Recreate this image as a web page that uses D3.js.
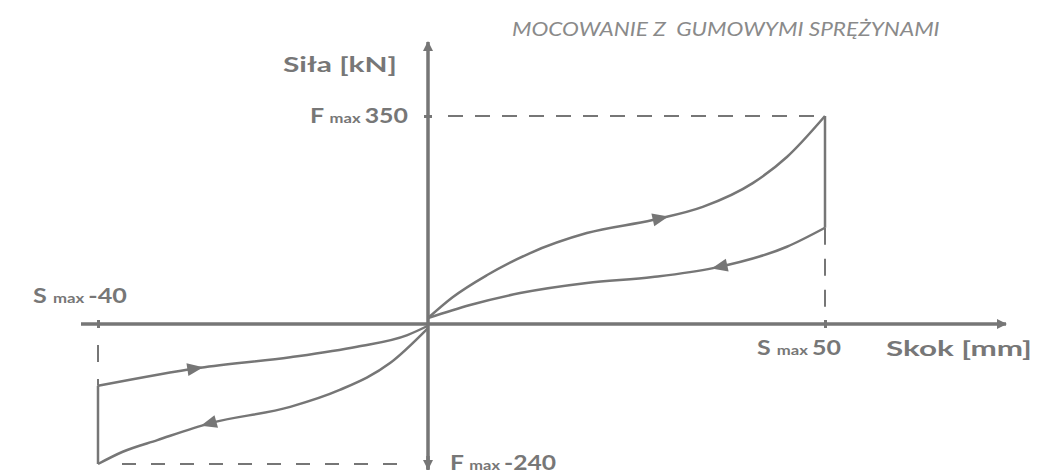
<!DOCTYPE html>
<html>
<head>
<meta charset="utf-8">
<script src="https://cdn.jsdelivr.net/npm/d3@7"></script>
<style>
  html, body { margin: 0; padding: 0; background: #fff; }
  svg { display: block; }
  .lbl { font-family: Lato, "Open Sans", sans-serif; font-weight: 700; fill: #777; }
</style>
</head>
<body>
<svg id="chart" width="1037" height="474"></svg>
<script>
// Hysteresis loop of the mount: stroke [mm] vs force [kN]
const title = "MOCOWANIE Z  GUMOWYMI SPRĘŻYNAMI";
const xTicks = [-40, 50];          // S max
const yTicks = [-240, 350];        // F max

// compression side (positive stroke)
const loadPos   = [[0,10],[3.1,45],[7.4,82],[12.8,119],[20,153],[28.3,175],[34.6,197],[40.9,237],[45.2,281],[50,350]];
const unloadPos = [[50,162],[45.2,130],[35.9,94],[28.3,79],[20,69],[11.6,52],[5.3,32],[0,10]];
// rebound side (negative stroke)
const loadNeg   = [[0,-7],[-4.6,-67],[-10.7,-113],[-16.7,-142],[-26.4,-170],[-32.8,-199],[-37,-219],[-40,-240]];
const unloadNeg = [[-40,-106],[-27.6,-75],[-16.7,-57],[-8.6,-39],[-2.5,-19],[0,-3]];

// stroke value where each direction arrow sits
const arrowsAt = [
  { curve: loadPos,   x: 29.3 },
  { curve: unloadPos, x: 36.7 },
  { curve: unloadNeg, x: -28.2 },
  { curve: loadNeg,   x: -26.6 }
];

const svg = d3.select("#chart");
const grey = "#767676";

const x = d3.scaleLinear().domain([-40, 0, 50]).range([98, 428, 825]);
const y = d3.scaleLinear().domain([-240, 0, 350]).range([464, 324, 116]);

// arrowheads
const defs = svg.append("defs");
defs.append("marker").attr("id", "axArrow").attr("viewBox", "0 0 10 10")
  .attr("refX", 9).attr("refY", 5).attr("markerWidth", 12).attr("markerHeight", 10)
  .attr("markerUnits", "userSpaceOnUse").attr("orient", "auto")
  .append("path").attr("d", "M0,0 L10,5 L0,10 Z").attr("fill", grey);

// dashed guide lines
const guides = svg.append("g").attr("stroke", grey).attr("stroke-width", 2).attr("fill", "none");
guides.append("line")
  .attr("x1", x(0) + 20).attr("x2", x(50) - 4).attr("y1", y(350)).attr("y2", y(350))
  .attr("stroke-dasharray", "15,12");
guides.append("line")
  .attr("x1", x(-40) + 24).attr("x2", x(0) - 18).attr("y1", y(-240)).attr("y2", y(-240))
  .attr("stroke-dasharray", "14,15");
guides.append("line")
  .attr("x1", x(50)).attr("x2", x(50)).attr("y1", y(162)).attr("y2", y(0))
  .attr("stroke-dasharray", "17,14");
guides.append("line")
  .attr("x1", x(-40)).attr("x2", x(-40)).attr("y1", y(0)).attr("y2", y(-106))
  .attr("stroke-dasharray", "0,21,17,17,17,1000");

// vertical closing segments of the loop
guides.append("line").attr("stroke-width", 2.5)
  .attr("x1", x(50)).attr("x2", x(50)).attr("y1", y(350)).attr("y2", y(162));
guides.append("line").attr("stroke-width", 2.5)
  .attr("x1", x(-40)).attr("x2", x(-40)).attr("y1", y(-106)).attr("y2", y(-240));

// axes
const axG = svg.append("g");
axG.append("line").attr("x1", 81).attr("x2", 1006).attr("y1", y(0)).attr("y2", y(0))
  .attr("stroke", grey).attr("stroke-width", 3.5).attr("marker-end", "url(#axArrow)");
axG.append("line").attr("x1", x(0)).attr("x2", x(0)).attr("y1", 470).attr("y2", 42)
  .attr("stroke", grey).attr("stroke-width", 3.5).attr("marker-end", "url(#axArrow)");
axG.append("line").attr("x1", x(0)).attr("x2", x(0)).attr("y1", 456).attr("y2", 469)
  .attr("stroke", grey).attr("stroke-width", 3.5).attr("marker-end", "url(#axArrow)");

const xAxis = svg.append("g").attr("transform", `translate(0,${y(0)})`)
  .call(d3.axisBottom(x).tickValues(xTicks).tickSize(4).tickFormat(""));
const yAxis = svg.append("g").attr("transform", `translate(${x(0)},0)`)
  .call(d3.axisLeft(y).tickValues([350]).tickSize(4).tickFormat(""));
[xAxis, yAxis].forEach(g => {
  g.select(".domain").remove();
  g.selectAll(".tick line").attr("stroke", grey).attr("stroke-width", 3);
});
xAxis.selectAll(".tick line").attr("y1", -4).attr("y2", 4);
yAxis.selectAll(".tick line").attr("x1", -4).attr("x2", 4);

// loop curves
const line = d3.line().x(d => x(d[0])).y(d => y(d[1])).curve(d3.curveMonotoneX);
const curves = [loadPos, unloadPos, loadNeg, unloadNeg];
const paths = svg.append("g").selectAll("path").data(curves).join("path")
  .attr("d", line).attr("fill", "none").attr("stroke", grey).attr("stroke-width", 2.5);

// direction arrows placed on the curves
arrowsAt.forEach(a => {
  const node = paths.filter(d => d === a.curve).node();
  const total = node.getTotalLength();
  const first = node.getPointAtLength(0).x, last = node.getPointAtLength(total).x;
  const dir = last > first ? 1 : -1;
  const tx = x(a.x);
  let lo = 0, hi = total;
  for (let i = 0; i < 40; i++) {
    const mid = (lo + hi) / 2;
    const px = node.getPointAtLength(mid).x;
    if ((px - tx) * dir < 0) lo = mid; else hi = mid;
  }
  const p = node.getPointAtLength(lo);
  const q = node.getPointAtLength(Math.min(total, lo + 2));
  const ang = Math.atan2(q.y - p.y, q.x - p.x) * 180 / Math.PI;
  svg.append("path").attr("d", "M8,0 L-8,-6.5 L-8,6.5 Z").attr("fill", grey)
    .attr("transform", `translate(${p.x},${p.y}) rotate(${ang})`);
});

// text helper: draws at the origin, then widens horizontally to the given width
function widenedText(xPos, yPos, anchor, width, build) {
  const g = svg.append("g");
  const t = g.append("text").attr("text-anchor", anchor);
  build(t);
  const w = t.node().getBBox().width;
  g.attr("transform", `translate(${xPos},${yPos}) scale(${width / w},1)`);
  return t;
}

widenedText(512, 36, "start", 428, t => t
  .attr("font-family", "Lato, 'Open Sans', sans-serif").attr("font-style", "italic")
  .attr("font-size", 19).attr("fill", "#8a8a8a")
  .style("white-space", "pre").text(title));

widenedText(283, 72, "start", 114, t => t.attr("class", "lbl").attr("font-size", 21).text("Siła [kN]"));
widenedText(886, 356, "start", 146, t => t.attr("class", "lbl").attr("font-size", 21).text("Skok [mm]"));

function maxLabel(xPos, yPos, width, letter, value, anchor) {
  widenedText(xPos, yPos, anchor, width, t => {
    t.attr("class", "lbl");
    t.append("tspan").attr("font-size", 21).text(letter + " ");
    t.append("tspan").attr("font-size", 14).text("max ");
    t.append("tspan").attr("font-size", 21).text(value);
  });
}
maxLabel(408, 123, 98, "F", yTicks[1], "end");
maxLabel(450, 470, 106, "F", yTicks[0], "start");
maxLabel(33, 303, 94, "S", xTicks[0], "start");
maxLabel(757, 355, 84, "S", xTicks[1], "start");
</script>
</body>
</html>
